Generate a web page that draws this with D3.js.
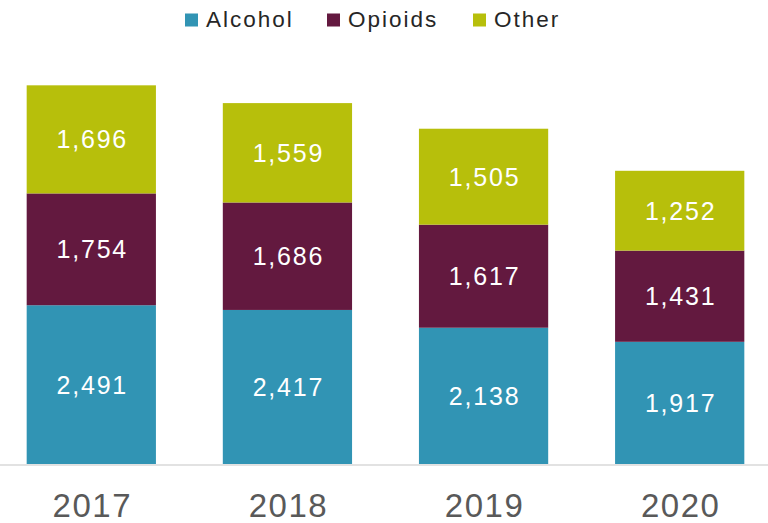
<!DOCTYPE html>
<html>
<head>
<meta charset="utf-8">
<script src="https://cdn.jsdelivr.net/npm/d3@7"></script>
<style>
  html, body { margin: 0; padding: 0; background: #fff; }
  svg { display: block; }
  text { font-family: "Liberation Sans", Arial, sans-serif; }
</style>
</head>
<body>
<div id="chart"></div>
<script>
const years = ["2017", "2018", "2019", "2020"];
const seriesNames = ["Alcohol", "Opioids", "Other"];
const alcohol = [2491, 2417, 2138, 1917];
const opioids = [1754, 1686, 1617, 1431];
const other = [1696, 1559, 1505, 1252];
const colors = ["#3194B4", "#63193F", "#B7BF0B"];

const W = 768, H = 523;
const svg = d3.select("#chart").append("svg").attr("width", W).attr("height", H);

const rows = years.map((y, i) => ({ year: y, Alcohol: alcohol[i], Opioids: opioids[i], Other: other[i] }));
const stack = d3.stack().keys(seriesNames)(rows);

const x = d3.scaleBand().domain(years).range([0, 771]).paddingInner(0.341).paddingOuter(0.136);
const y = d3.scaleLinear().domain([0, 6000]).range([464, 464 - 6000 * 0.06374]);
const color = d3.scaleOrdinal().domain(seriesNames).range(colors);

const fmt = d3.format(",");

const layers = svg.selectAll("g.layer").data(stack).join("g").attr("class", "layer")
  .attr("fill", d => color(d.key));

layers.selectAll("rect").data(d => d).join("rect")
  .attr("x", d => x(d.data.year))
  .attr("width", x.bandwidth())
  .attr("y", d => y(d[1]))
  .attr("height", d => y(d[0]) - y(d[1]));

// value labels
const labels = svg.append("g");
stack.forEach(layer => {
  labels.selectAll(null).data(layer).join("text")
    .attr("x", d => x(d.data.year) + x.bandwidth() / 2 + 1)
    .attr("y", d => (y(d[0]) + y(d[1])) / 2)
    .attr("dy", "0.36em")
    .attr("text-anchor", "middle")
    .attr("fill", "#fff")
    .attr("font-size", 25)
    .attr("letter-spacing", 1.8)
    .text(d => fmt(d[1] - d[0]));
});

// axis baseline
svg.append("line")
  .attr("x1", 0).attr("x2", W)
  .attr("y1", 465).attr("y2", 465)
  .attr("stroke", "#D9D9D9").attr("stroke-width", 1.5);

// x axis labels
const xAxis = d3.axisBottom(x).tickSize(0).tickPadding(0);
const gx = svg.append("g").attr("transform", "translate(0,465)").call(xAxis);
gx.select(".domain").remove();
gx.selectAll("text")
  .attr("dy", null)
  .attr("y", 52)
  .attr("x", 1)
  .attr("fill", "#595959")
  .attr("font-size", 33)
  .attr("letter-spacing", 1.5)
  .style("font-family", "'Liberation Sans', Arial, sans-serif");

// legend
const legendX = [185, 327, 473];
const legend = svg.append("g");
seriesNames.forEach((name, i) => {
  const g = legend.append("g").attr("transform", `translate(${legendX[i]},0)`);
  g.append("rect").attr("x", 0).attr("y", 13.5).attr("width", 13).attr("height", 13).attr("fill", colors[i]);
  g.append("text").attr("x", 21).attr("y", 27.3)
    .attr("font-size", 22.5).attr("letter-spacing", 2).attr("fill", "#262626").text(name);
});
</script>
</body>
</html>
